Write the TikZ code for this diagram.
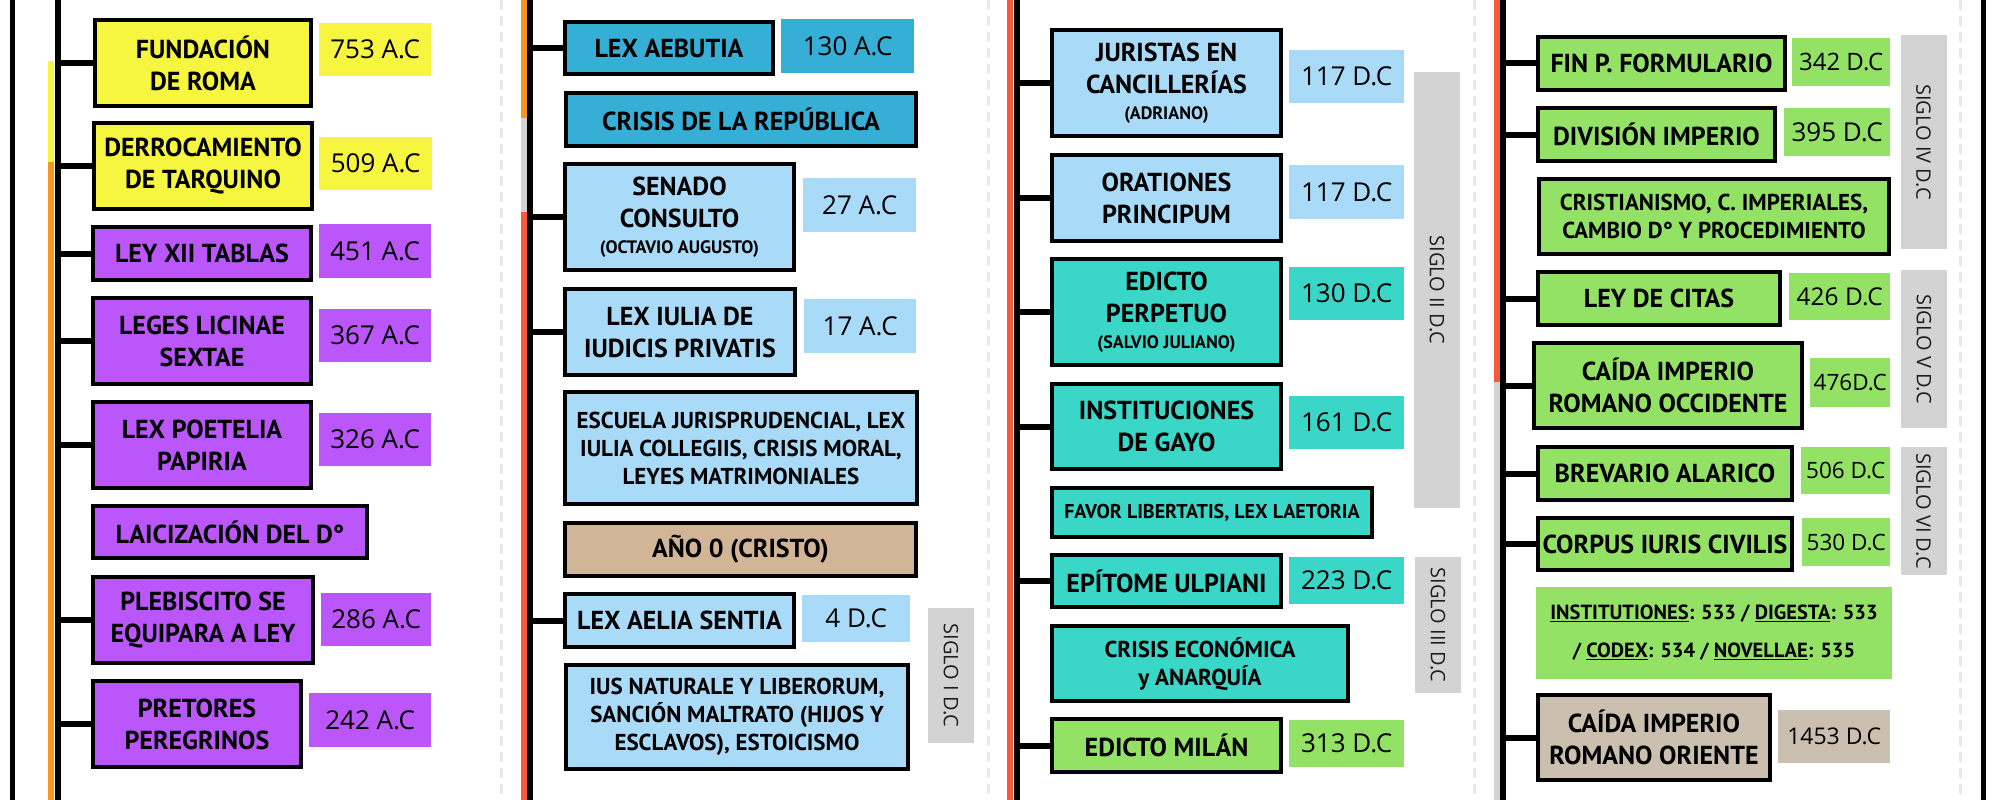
\documentclass[tikz,border=0pt]{standalone}
\usepackage{fontspec}
\usepackage{xcolor}
\usepackage{tikz}
\setmainfont{PT Sans}
\newfontfamily\fechafont{Open Sans}
\newfontfamily\siglofont{Open Sans}
\definecolor{amarillo}{HTML}{F6F53F}
\definecolor{morado}  {HTML}{BB57FA}
\definecolor{azul}    {HTML}{35AFD6}
\definecolor{celeste} {HTML}{A9DBF8}
\definecolor{turquesa}{HTML}{3AD6C8}
\definecolor{verde}   {HTML}{93E266}
\definecolor{arena}   {HTML}{D1B596}
\definecolor{piedra}  {HTML}{CBBFAF}
\definecolor{gris}    {HTML}{D3D3D3}
\definecolor{naranja} {HTML}{F7941D}
\definecolor{rojo}    {HTML}{F45B37}
\definecolor{corte}   {HTML}{E8E8E8}

\begin{document}
\begin{tikzpicture}[
  x=1pt, y=-1pt,
  % event boxes: black frame, comic-ish bold capitals
  hito/.style={draw=black, line width=4pt, anchor=north west, align=center,
               inner sep=2pt, font=\bfseries\fontsize{26}{32}\selectfont},
  nota/.style={hito, font=\bfseries\fontsize{23}{28}\selectfont},
  fecha/.style={anchor=north west, inner sep=0pt,
                font=\fechafont\fontsize{26}{28}\selectfont},
  siglo/.style={fill=gris, rotate=-90, inner sep=0pt, minimum height=46pt,
                text=black!88, font=\siglofont\fontsize{20}{22}\selectfont},
  eje/.style={line width=6pt},
  rama/.style={line width=6pt},
  barra/.style={line width=6pt},
  corte/.style={line width=3pt, color=corte, dash pattern=on 10pt off 6pt}
]

\def\sub#1{{\fontsize{18}{20}\selectfont #1}}

\useasboundingbox (0,0) rectangle (2000,800);
\fill[white] (0,0) rectangle (2000,800);

% --- frame and column separators ---------------------------------------------
\draw[line width=5pt] (12.5,0) -- (12.5,800);
\draw[line width=5pt] (1983,0) -- (1983,800);
\draw[corte] (501,0) -- (501,800);
\draw[corte] (988,0) -- (988,800);
\draw[corte] (1474,0) -- (1474,800);
\draw[corte] (1960,0) -- (1960,800);

% --- period bars beside each spine -------------------------------------------
\draw[barra, amarillo] (51,61) -- (51,162);
\draw[barra, naranja] (51,162) -- (51,800);
\draw[barra, naranja] (524,0) -- (524,118);
\draw[barra, gris]    (524,118) -- (524,212);
\draw[barra, rojo]    (524,212) -- (524,800);
\draw[barra, rojo]    (1010,0) -- (1010,800);
\draw[barra, rojo]    (1497,0) -- (1497,382);
\draw[barra, gris]    (1497,382) -- (1497,800);

% --- spines --------------------------------------------------------------------
\coordinate (ejeA) at (58,0);   \coordinate (ejeAfin) at (58,800);
\coordinate (ejeB) at (530,0);  \coordinate (ejeBfin) at (530,800);
\coordinate (ejeC) at (1017,0); \coordinate (ejeCfin) at (1017,800);
\coordinate (ejeD) at (1503,0); \coordinate (ejeDfin) at (1503,800);
\draw[eje] (ejeA) -- (ejeAfin);
\draw[eje] (ejeB) -- (ejeBfin);
\draw[eje] (ejeC) -- (ejeCfin);
\draw[eje] (ejeD) -- (ejeDfin);

% --- column 1: monarquia y republica temprana ----------------------------------
\node[hito, fill=amarillo, minimum width=216pt, minimum height=86pt] (fund) at (93,18)
  {FUNDACIÓN\\DE ROMA};
\node[hito, fill=amarillo, minimum width=218pt, minimum height=86pt] (derr) at (92,121)
  {DERROCAMIENTO\\DE TARQUINO};
\node[hito, fill=morado, minimum width=218pt, minimum height=53pt] (xii) at (91,225)
  {LEY XII TABLAS};
\node[hito, fill=morado, minimum width=218pt, minimum height=86pt] (leges) at (91,296)
  {LEGES LICINAE\\SEXTAE};
\node[hito, fill=morado, minimum width=218pt, minimum height=86pt] (poet) at (91,400)
  {LEX POETELIA\\PAPIRIA};
\node[hito, fill=morado, minimum width=274pt, minimum height=52pt] (laic) at (91,504)
  {LAICIZACIÓN DEL D°};
\node[hito, fill=morado, minimum width=220pt, minimum height=86pt] (pleb) at (91,575)
  {PLEBISCITO SE\\EQUIPARA A LEY};
\node[hito, fill=morado, minimum width=208pt, minimum height=86pt] (pret) at (91,679)
  {PRETORES\\PEREGRINOS};

\node[fecha, fill=amarillo, minimum width=112pt, minimum height=53pt] (f753) at (319,23) {753 A.C};
\node[fecha, fill=amarillo, minimum width=113pt, minimum height=53pt] (f509) at (319,137) {509 A.C};
\node[fecha, fill=morado, minimum width=112pt, minimum height=54pt] (f451) at (319,224) {451 A.C};
\node[fecha, fill=morado, minimum width=112pt, minimum height=53pt] (f367) at (319,309) {367 A.C};
\node[fecha, fill=morado, minimum width=112pt, minimum height=53pt] (f326) at (319,413) {326 A.C};
\node[fecha, fill=morado, minimum width=110pt, minimum height=53pt] (f286) at (321,593) {286 A.C};
\node[fecha, fill=morado, minimum width=122pt, minimum height=54pt] (f242) at (309,693) {242 A.C};

\foreach \n in {fund, derr, xii, leges, poet, pleb, pret}
  \draw[rama] (\n.west) -- (\n.west -| ejeA);

% --- column 2: fin de la republica --------------------------------------------
\node[hito, fill=azul, minimum width=208pt, minimum height=52pt] (aebu) at (563,20)
  {LEX AEBUTIA};
\node[hito, fill=azul, minimum width=350pt, minimum height=53pt] (crisrep) at (564,91)
  {CRISIS DE LA REPÚBLICA};
\node[hito, fill=celeste, minimum width=229pt, minimum height=106pt] (senado) at (563,162)
  {SENADO\\CONSULTO\\[-6pt]\sub{(OCTAVIO AUGUSTO)}};
\node[hito, fill=celeste, minimum width=230pt, minimum height=86pt] (iulia) at (563,287)
  {LEX IULIA DE\\IUDICIS PRIVATIS};
\node[nota, fill=celeste, minimum width=352pt, minimum height=112pt] (escuela) at (563,390)
  {ESCUELA JURISPRUDENCIAL, LEX\\IULIA COLLEGIIS, CRISIS MORAL,\\LEYES MATRIMONIALES};
\node[hito, fill=arena, minimum width=351pt, minimum height=53pt] (cristo) at (563,521)
  {AÑO 0 (CRISTO)};
\node[hito, fill=celeste, minimum width=229pt, minimum height=53pt] (aelia) at (563,592)
  {LEX AELIA SENTIA};
\node[nota, fill=celeste, minimum width=342pt, minimum height=104pt] (ius) at (564,663)
  {IUS NATURALE Y LIBERORUM,\\SANCIÓN MALTRATO (HIJOS Y\\ESCLAVOS), ESTOICISMO};

\node[fecha, fill=azul, minimum width=133pt, minimum height=54pt] (f130a) at (781,19) {130 A.C};
\node[fecha, fill=celeste, minimum width=113pt, minimum height=54pt] (f27) at (803,178) {27 A.C};
\node[fecha, fill=celeste, minimum width=112pt, minimum height=54pt] (f17) at (804,299) {17 A.C};
\node[fecha, fill=celeste, minimum width=108pt, minimum height=47pt] (f4) at (802,595) {4 D.C};
\node[siglo, minimum width=135pt] (sI) at (951,675.5) {SIGLO I D.C};

\foreach \n in {aebu, senado, iulia, aelia}
  \draw[rama] (\n.west) -- (\n.west -| ejeB);

% --- column 3: siglos II y III ------------------------------------------------
\node[hito, fill=celeste, minimum width=229pt, minimum height=106pt] (jur) at (1050,28)
  {JURISTAS EN\\CANCILLERÍAS\\[-6pt]\sub{(ADRIANO)}};
\node[hito, fill=celeste, minimum width=229pt, minimum height=86pt] (orat) at (1050,153)
  {ORATIONES\\PRINCIPUM};
\node[hito, fill=turquesa, minimum width=229pt, minimum height=106pt] (edic) at (1050,257)
  {EDICTO\\PERPETUO\\[-6pt]\sub{(SALVIO JULIANO)}};
\node[hito, fill=turquesa, minimum width=229pt, minimum height=85pt] (gayo) at (1050,382)
  {INSTITUCIONES\\DE GAYO};
\node[hito, fill=turquesa, minimum width=320pt, minimum height=49pt,
      font=\bfseries\fontsize{20}{22}\selectfont] (favor) at (1050,486)
  {FAVOR LIBERTATIS, LEX LAETORIA};
\node[hito, fill=turquesa, minimum width=229pt, minimum height=52pt] (epit) at (1050,553)
  {EPÍTOME ULPIANI};
\node[nota, fill=turquesa, minimum width=296pt, minimum height=75pt] (crisec) at (1050,624)
  {CRISIS ECONÓMICA\\y ANARQUÍA};
\node[hito, fill=verde, minimum width=229pt, minimum height=53pt] (milan) at (1050,717)
  {EDICTO MILÁN};

\node[fecha, fill=celeste, minimum width=115pt, minimum height=53pt] (f117a) at (1289,50) {117 D.C};
\node[fecha, fill=celeste, minimum width=115pt, minimum height=54pt] (f117b) at (1289,165) {117 D.C};
\node[fecha, fill=turquesa, minimum width=115pt, minimum height=53pt] (f130d) at (1289,267) {130 D.C};
\node[fecha, fill=turquesa, minimum width=115pt, minimum height=53pt] (f161) at (1289,396) {161 D.C};
\node[fecha, fill=turquesa, minimum width=115pt, minimum height=47pt] (f223) at (1289,557) {223 D.C};
\node[fecha, fill=verde, minimum width=115pt, minimum height=47pt] (f313) at (1289,720) {313 D.C};
\node[siglo, minimum width=436pt] (sII) at (1437,290) {SIGLO II D.C};
\node[siglo, minimum width=136pt] (sIII) at (1438,625) {SIGLO III D.C};

\foreach \n in {jur, orat, edic, gayo, epit, milan}
  \draw[rama] (\n.west) -- (\n.west -| ejeC);

% --- column 4: bajo imperio ---------------------------------------------------
\node[hito, fill=verde, minimum width=247pt, minimum height=53pt] (fin) at (1536,35)
  {FIN P. FORMULARIO};
\node[hito, fill=verde, minimum width=237pt, minimum height=53pt] (div) at (1536,106)
  {DIVISIÓN IMPERIO};
\node[nota, fill=verde, minimum width=350pt, minimum height=75pt] (crist) at (1537,177)
  {CRISTIANISMO, C. IMPERIALES,\\CAMBIO D° Y PROCEDIMIENTO};
\node[hito, fill=verde, minimum width=242pt, minimum height=53pt] (citas) at (1536,270)
  {LEY DE CITAS};
\node[hito, fill=verde, minimum width=268pt, minimum height=85pt] (occ) at (1532,341)
  {CAÍDA IMPERIO\\ROMANO OCCIDENTE};
\node[hito, fill=verde, minimum width=254pt, minimum height=53pt] (brev) at (1536,445)
  {BREVARIO ALARICO};
\node[hito, fill=verde, minimum width=254pt, minimum height=52pt] (corpus) at (1536,516)
  {CORPUS IURIS CIVILIS};
\node[nota, draw=none, fill=verde, minimum width=356pt, minimum height=92pt,
      font=\bfseries\fontsize{20.5}{38}\selectfont] (codigos) at (1534,585)
  {\underline{INSTITUTIONES}: 533 / \underline{DIGESTA}: 533\\
   / \underline{CODEX}: 534 / \underline{NOVELLAE}: 535};
\node[hito, fill=piedra, minimum width=232pt, minimum height=85pt] (orie) at (1536,693)
  {CAÍDA IMPERIO\\ROMANO ORIENTE};

\node[fecha, fill=verde, minimum width=98pt, minimum height=48pt,
      font=\fechafont\fontsize{24}{26}\selectfont] (f342) at (1792,38) {342 D.C};
\node[fecha, fill=verde, minimum width=106pt, minimum height=48pt] (f395) at (1784,108) {395 D.C};
\node[fecha, fill=verde, minimum width=101pt, minimum height=47pt,
      font=\fechafont\fontsize{24.5}{26}\selectfont] (f426) at (1789,273) {426 D.C};
\node[fecha, fill=verde, minimum width=80pt, minimum height=49pt,
      font=\fechafont\fontsize{22.5}{24}\selectfont] (f476) at (1810,358) {476D.C};
\node[fecha, fill=verde, minimum width=89pt, minimum height=47pt,
      font=\fechafont\fontsize{22.5}{24}\selectfont] (f506) at (1801,447) {506 D.C};
\node[fecha, fill=verde, minimum width=88pt, minimum height=48pt,
      font=\fechafont\fontsize{22.5}{24}\selectfont] (f530) at (1802,518) {530 D.C};
\node[fecha, fill=piedra, minimum width=112pt, minimum height=53pt,
      font=\fechafont\fontsize{23}{24}\selectfont] (f1453) at (1778,710) {1453 D.C};
\node[siglo, minimum width=214pt] (sIV) at (1923.5,142) {SIGLO IV D.C};
\node[siglo, minimum width=158pt] (sV) at (1924,349) {SIGLO V D.C};
\node[siglo, minimum width=128pt] (sVI) at (1923.5,511) {SIGLO VI D.C};

\foreach \n in {fin, div, citas, occ, brev, corpus, orie}
  \draw[rama] (\n.west) -- (\n.west -| ejeD);

\end{tikzpicture}
\end{document}
